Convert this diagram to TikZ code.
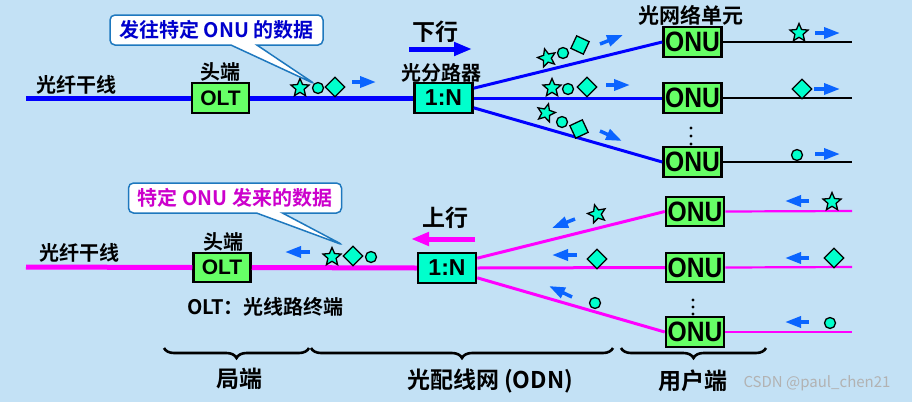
\documentclass[tikz,border=0pt]{standalone}
\usepackage{fontspec}
\setmainfont{Noto Sans CJK SC}[BoldFont={Noto Sans CJK SC Bold}]
\newfontfamily\latinfont{Liberation Sans}
\usetikzlibrary{shapes.geometric, shapes.callouts, arrows.meta, decorations.pathreplacing}

\definecolor{fondo}{RGB}{195,225,245}
\definecolor{verdeonu}{RGB}{102,255,102}
\definecolor{cian}{RGB}{0,255,204}
\definecolor{azulfibra}{RGB}{0,0,255}
\definecolor{magenta}{RGB}{255,0,255}
\definecolor{azulflecha}{RGB}{10,100,255}
\definecolor{azulnube}{RGB}{30,120,190}
\definecolor{textoazul}{RGB}{0,0,204}
\definecolor{textomag}{RGB}{204,0,204}

\newcommand{\onutxt}{\scalebox{.88}[1]{ONU}}

\begin{document}
\begin{tikzpicture}[x=1pt, y=-1pt,
    caja/.style={draw=black, line width=2.5pt, inner sep=0pt, minimum height=30pt},
    olt/.style={caja, fill=verdeonu, minimum width=57pt, font=\latinfont\bfseries\fontsize{21}{21}\selectfont},
    spl/.style={caja, fill=cian, minimum width=58pt, font=\latinfont\bfseries\fontsize{23}{23}\selectfont},
    onu/.style={caja, fill=verdeonu, minimum width=58pt, font=\latinfont\bfseries\fontsize{28}{28}\selectfont},
    etiq/.style={inner sep=0pt, font=\bfseries\fontsize{20}{20}\selectfont},
    grande/.style={inner sep=0pt, font=\bfseries\fontsize{23}{23}\selectfont},
    nube/.style={rectangle callout, draw=azulnube, line width=1.5pt, fill=white, rounded corners=5pt,
        minimum width=213pt, minimum height=30pt, inner sep=0pt, callout pointer width=26pt,
        font=\bfseries\fontsize{20}{20}\selectfont},
    stella/.style={star, star points=5, star point ratio=2.2, draw=black, fill=cian, line width=1.3pt, minimum size=19pt, inner sep=0pt},
    punto/.style={circle, draw=black, fill=cian, line width=1.3pt, minimum size=11pt, inner sep=0pt},
    rombo/.style={diamond, draw=black, fill=cian, line width=1.3pt, minimum size=20pt, inner sep=0pt},
    flecha/.style={azulflecha, line width=3.5pt, -{Triangle[length=16pt,width=11pt]}},
    llave/.style={line width=2.6pt, decorate, decoration={brace, mirror, amplitude=10pt}}
]
    % Fondo
    \fill[fondo] (0,0) rectangle (912,402);
    \useasboundingbox (0,0) rectangle (912,402);

    % ===== Bajada (arriba) =====
    % Cajas
    \node[olt] (olt1) at (220.5,98) {OLT};
    \node[spl] (spl1) at (443.5,98) {1:N};
    \node[onu] (onu1) at (692.5,42) {\onutxt};
    \node[onu] (onu2) at (692.5,98) {\onutxt};
    \node[onu] (onu3) at (692.5,162) {\onutxt};
    \coordinate (ini1) at (26,98);
    \coordinate (fin1) at (852,42);
    \coordinate (fin2) at (852,98);
    \coordinate (fin3) at (852,162);

    % Fibras
    \draw[azulfibra, line width=5pt] (ini1) -- (olt1.west);
    \draw[azulfibra, line width=5pt] (olt1.east) -- (spl1.west);
    \draw[azulfibra, line width=3pt] (spl1.18) -- (onu1.west);
    \draw[azulfibra, line width=3pt] (spl1.east) -- (onu2.west);
    \draw[azulfibra, line width=3pt] (spl1.-18) -- (onu3.west);
    \draw[black, line width=2.5pt] (onu1.east) -- (fin1);
    \draw[black, line width=2.5pt] (onu2.east) -- (fin2);
    \draw[black, line width=2.5pt] (onu3.east) -- (fin3);

    % Textos
    \node[etiq] (troncal1) at (76.5,85) {光纤干线};
    \node[etiq] (cabeza1) at (220,72) {头端};
    \node[etiq] (divisor) at (441.5,73) {光分路器};
    \node[etiq, font=\bfseries\fontsize{21}{21}\selectfont] (unidad) at (691,15) {光网络单元};
    \node[grande] (bajada) at (435.5,32) {下行};
    \draw[azulfibra, line width=5pt, -{Triangle[length=18pt,width=13pt]}] (409,49) -- (472,49);

    % Datos
    \node[stella] (s1) at (300,88) {};
    \node[punto] (c1) at (318,88) {};
    \node[rombo] (r1) at (335,87) {};
    \draw[flecha] (352,82) -- (376,82);
    \node[nube, callout absolute pointer={(315,84)}, text=textoazul] (nube1) at (216.5,30) {发往特定 ONU 的数据};

    \node[stella, rotate=15] (s2) at (547,58) {};
    \node[punto] (c2) at (563,53) {};
    \node[rombo, rotate=20] (r2) at (580,45) {};
    \draw[flecha] (600,44) -- (623,35);
    \node[stella] (s3) at (552,88) {};
    \node[punto] (c3) at (568,89) {};
    \node[rombo] (r3) at (587,87) {};
    \draw[flecha] (606,85) -- (630,85);
    \node[stella, rotate=-15] (s4) at (546,113) {};
    \node[punto] (c4) at (562,122) {};
    \node[rombo, rotate=-20] (r4) at (579,129) {};
    \draw[flecha] (600,131) -- (622,141);

    \node[stella] (s5) at (799,33) {};
    \draw[flecha] (815,33) -- (840,33);
    \node[rombo] (r5) at (802,89) {};
    \draw[flecha] (814,89) -- (840,89);
    \node[punto] (c5) at (797,155) {};
    \draw[flecha] (815,154) -- (840,154);
    \foreach \y in {128,136,144} \fill (691,\y) circle (1.7pt);

    % ===== Subida (abajo) =====
    % Cajas
    \node[olt, minimum height=29pt] (olt2) at (222,267.5) {OLT};
    \node[spl] (spl2) at (447,268) {1:N};
    \node[onu, minimum height=29pt] (onu4) at (695,211.5) {\onutxt};
    \node[onu, minimum height=29pt] (onu5) at (695,267.5) {\onutxt};
    \node[onu] (onu6) at (695,332) {\onutxt};
    \coordinate (ini2) at (26,267);
    \coordinate (fin4) at (852,211);
    \coordinate (fin5) at (852,267);
    \coordinate (fin6) at (852,332);

    % Fibras
    \draw[magenta, line width=5pt] (ini2) -- (olt2.west);
    \draw[magenta, line width=5pt] (olt2.east) -- (spl2.west);
    \draw[magenta, line width=3pt] (spl2.18) -- (onu4.west);
    \draw[magenta, line width=3pt] (spl2.east) -- (onu5.west);
    \draw[magenta, line width=3pt] (spl2.-18) -- (onu6.west);
    \draw[magenta, line width=2.2pt] (onu4.east) -- (fin4);
    \draw[magenta, line width=2.2pt] (onu5.east) -- (fin5);
    \draw[magenta, line width=2.2pt] (onu6.east) -- (fin6);

    % Textos
    \node[etiq] (troncal2) at (79.5,253) {光纤干线};
    \node[etiq] (cabeza2) at (223,242) {头端};
    \node[etiq] (nota) at (265.5,307) {OLT：光线路终端};
    \node[grande] (subida) at (445,218) {上行};
    \draw[magenta, line width=5pt, -{Triangle[length=18pt,width=13pt]}] (475,239) -- (411,239);

    % Datos
    \node[stella] (s6) at (332,257) {};
    \node[rombo] (r6) at (353,256) {};
    \node[punto] (c6) at (371,257) {};
    \draw[flecha] (310,252) -- (285,252);
    \node[nube, callout absolute pointer={(343,245)}, text=textomag] (nube2) at (235,198) {特定 ONU 发来的数据};

    \node[stella, rotate=15] (s7) at (597,214) {};
    \draw[flecha] (575,219) -- (552,228);
    \node[rombo] (r7) at (597,259) {};
    \draw[flecha] (577,255) -- (552,255);
    \node[punto] (c7) at (595,303) {};
    \draw[flecha] (572,297) -- (549,286);

    \node[stella] (s8) at (832,202) {};
    \draw[flecha] (809,201) -- (785,201);
    \node[rombo] (r8) at (834,258) {};
    \draw[flecha] (809,258) -- (785,258);
    \node[punto] (c8) at (830,323) {};
    \draw[flecha] (809,322) -- (785,322);
    \foreach \y in {300,307,314} \fill (693,\y) circle (1.7pt);

    % ===== Llaves =====
    \draw[llave] (164,348) -- (309,348);
    \draw[llave] (311,348) -- (613,348);
    \draw[llave] (621,348) -- (766,348);
    \node[grande] (local) at (239.5,379) {局端};
    \node[grande] (odn) at (490,381) {光配线网 (ODN)};
    \node[grande] (usuario) at (693,381) {用户端};

    % Marca
    \node[inner sep=0pt, text=white!70!black, font=\fontsize{15}{15}\selectfont] (marca) at (817,383) {CSDN @paul\_chen21};
\end{tikzpicture}
\end{document}
